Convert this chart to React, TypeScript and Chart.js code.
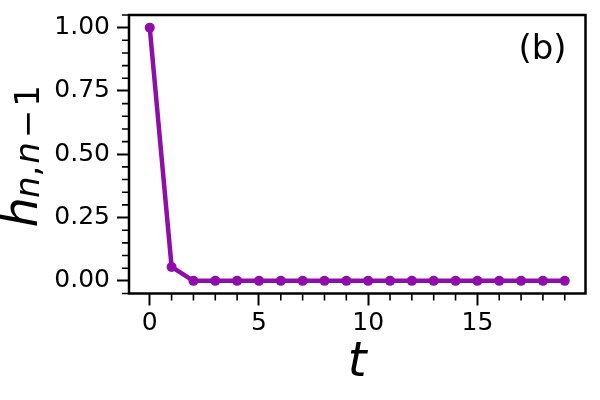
import React, { useEffect, useRef } from "react";
import { Chart, registerables } from "chart.js";

Chart.register(...registerables);

const tValues = [0, 1, 2, 3, 4, 5, 6, 7, 8, 9, 10, 11, 12, 13, 14, 15, 16, 17, 18, 19];
const hValues = [1.0, 0.055, 0, 0, 0, 0, 0, 0, 0, 0, 0, 0, 0, 0, 0, 0, 0, 0, 0, 0];

const xMajorTicks = [0, 5, 10, 15];
const yMajorTicks = [0, 0.25, 0.5, 0.75, 1.0];
const xMinorTicks = [1, 2, 3, 4, 6, 7, 8, 9, 11, 12, 13, 14, 16, 17, 18, 19];
const yMinorTicks = [
  -0.05, 0.05, 0.1, 0.15, 0.2, 0.3, 0.35, 0.4, 0.45, 0.55, 0.6, 0.65, 0.7, 0.8, 0.85, 0.9, 0.95, 1.05,
];

const xLabel = "t";
const yLabelMain = "h";
const panelLabel = "(b)";
const lineColor = "#8f0da9";
const FONT = "'DejaVu Sans', sans-serif";

const decorPlugin = {
  id: "decor",
  afterDraw(chart: any) {
    const ctx = chart.ctx as CanvasRenderingContext2D;
    const { left, right, top, bottom } = chart.chartArea;
    const xs = chart.scales.x;
    const ys = chart.scales.y;
    ctx.save();
    // spines
    ctx.strokeStyle = "#000";
    ctx.lineWidth = 2.5;
    ctx.strokeRect(left, top, right - left, bottom - top);
    // minor ticks
    ctx.lineWidth = 1.6;
    ctx.beginPath();
    for (const v of xMinorTicks) {
      const px = xs.getPixelForValue(v);
      ctx.moveTo(px, bottom);
      ctx.lineTo(px, bottom + 7);
    }
    for (const v of yMinorTicks) {
      const py = ys.getPixelForValue(v);
      ctx.moveTo(left, py);
      ctx.lineTo(left - 7, py);
    }
    ctx.stroke();

    // panel label
    ctx.fillStyle = "#000";
    ctx.font = `34px ${FONT}`;
    ctx.textAlign = "right";
    ctx.textBaseline = "alphabetic";
    ctx.fillText(panelLabel, right - 19, top + 44);

    // x label
    ctx.font = `italic 48px ${FONT}`;
    ctx.textAlign = "center";
    ctx.fillText(xLabel, (left + right) / 2, 376);

    // y label with subscript
    const pieces: { s: string; italic: boolean; size: number; gapAfter: number }[] = [
      { s: yLabelMain, italic: true, size: 48, gapAfter: -1 },
      { s: "n", italic: true, size: 34, gapAfter: 0 },
      { s: ",", italic: false, size: 34, gapAfter: 2 },
      { s: "n", italic: true, size: 34, gapAfter: 4 },
      { s: "\u2212", italic: false, size: 34, gapAfter: 3 },
      { s: "1", italic: false, size: 34, gapAfter: 0 },
    ];
    let total = 0;
    const widths: number[] = [];
    for (const p of pieces) {
      ctx.font = `${p.italic ? "italic " : ""}${p.size}px ${FONT}`;
      const w = ctx.measureText(p.s).width;
      widths.push(w);
      total += w + p.gapAfter;
    }
    const cy = (top + bottom) / 2 + 2;
    ctx.translate(37, cy);
    ctx.rotate(-Math.PI / 2);
    ctx.textAlign = "left";
    let x = -total / 2;
    pieces.forEach((p, i) => {
      ctx.font = `${p.italic ? "italic " : ""}${p.size}px ${FONT}`;
      const dy = i === 0 ? 0 : 2;
      ctx.fillText(p.s, x, dy);
      x += widths[i] + p.gapAfter;
    });
    ctx.restore();
  },
};

export default function App() {
  const ref = useRef<HTMLCanvasElement | null>(null);
  useEffect(() => {
    if (!ref.current) return;
    const chart = new Chart(ref.current, {
      type: "line",
      data: {
        datasets: [
          {
            data: tValues.map((t, i) => ({ x: t, y: hValues[i] })),
            borderColor: lineColor,
            backgroundColor: lineColor,
            borderWidth: 4.5,
            pointRadius: 5,
            pointBorderWidth: 0,
            pointBackgroundColor: lineColor,
            borderJoinStyle: "round",
            borderCapStyle: "round",
            tension: 0,
            fill: false,
          },
        ],
      },
      options: {
        responsive: false,
        animation: false,
        devicePixelRatio: 1,
        layout: { padding: { top: 15, right: 14.5, left: 0, bottom: 0 } },
        plugins: { legend: { display: false }, tooltip: { enabled: false } },
        scales: {
          x: {
            type: "linear",
            min: -0.95,
            max: 19.95,
            afterBuildTicks: (s: any) => {
              s.ticks = xMajorTicks.map((v) => ({ value: v }));
            },
            afterFit: (s: any) => {
              s.height = 106.5;
              s.paddingLeft = 0;
              s.paddingRight = 0;
            },
            grid: {
              drawOnChartArea: false,
              drawTicks: true,
              tickLength: 12,
              tickWidth: 2,
              tickColor: "#000",
              color: "#000",
            },
            border: { display: false },
            ticks: {
              color: "#000",
              font: { family: FONT, size: 25 },
              padding: 3,
              maxRotation: 0,
              callback: (v: any) => String(v),
            },
          },
          y: {
            type: "linear",
            min: -0.05,
            max: 1.05,
            afterBuildTicks: (s: any) => {
              s.ticks = yMajorTicks.map((v) => ({ value: v }));
            },
            afterFit: (s: any) => {
              s.width = 129;
              s.paddingTop = 0;
              s.paddingBottom = 0;
            },
            grid: {
              drawOnChartArea: false,
              drawTicks: true,
              tickLength: 12,
              tickWidth: 2,
              tickColor: "#000",
              color: "#000",
            },
            border: { display: false },
            ticks: {
              color: "#000",
              font: { family: FONT, size: 25 },
              padding: 7,
              callback: (v: any) => Number(v).toFixed(2),
            },
          },
        },
      },
      plugins: [decorPlugin],
    });
    return () => chart.destroy();
  }, []);
  return (
    <canvas
      ref={ref}
      width={600}
      height={400}
      style={{ position: "absolute", left: 0, top: 0, width: 600, height: 400 }}
    />
  );
}
